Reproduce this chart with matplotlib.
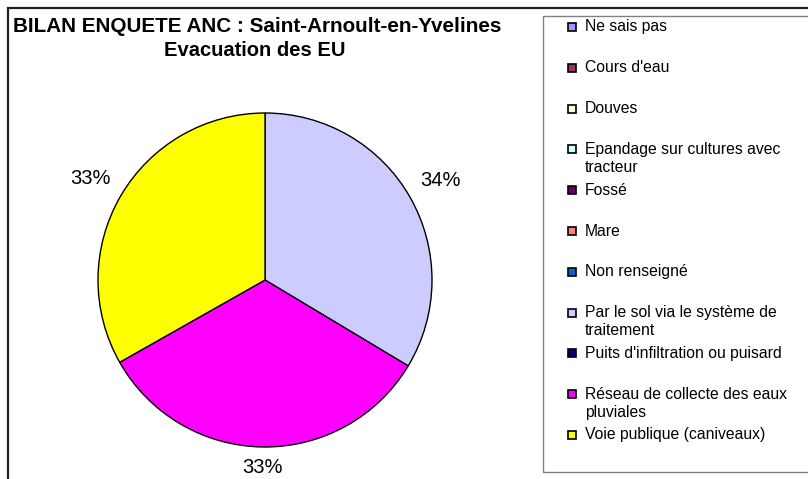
import numpy as np
import matplotlib.pyplot as plt
from matplotlib.patches import Rectangle

plt.rcParams['font.family'] = ['Liberation Sans', 'DejaVu Sans']

W, H = 808, 479

TITLE = "BILAN ENQUETE ANC : Saint-Arnoult-en-Yvelines\nEvacuation des EU"

categories = [
    "Ne sais pas",
    "Cours d'eau",
    "Douves",
    "Epandage sur cultures avec\ntracteur",
    "Fossé",
    "Mare",
    "Non renseigné",
    "Par le sol via le système de\ntraitement",
    "Puits d'infiltration ou puisard",
    "Réseau de collecte des eaux\npluviales",
    "Voie publique (caniveaux)",
]
values = [0, 0, 0, 0, 0, 0, 0, 33.6, 0, 33.2, 33.2]
colors = [
    "#9999FF", "#993366", "#FFFFCC", "#CCFFFF", "#660066", "#FF8080",
    "#0066CC", "#CCCCFF", "#000080", "#FF00FF", "#FFFF00",
]


def fx(px):
    return px / W


def fy(py):
    return 1 - py / H


fig = plt.figure(figsize=(W / 100, H / 100), dpi=100)

# outer chart frame (cut by the image on the right and bottom)
fig.patches.append(Rectangle((fx(8), -0.2), 1.5, fy(8) + 0.2, transform=fig.transFigure,
                             fill=False, edgecolor="#222222", linewidth=1.6))

# title
title_lines = TITLE.split("\n")
fig.text(fx(257), fy(27), title_lines[0], ha="center", va="center",
         fontsize=14.9, fontweight="bold")
fig.text(fx(255), fy(51), title_lines[1], ha="center", va="center",
         fontsize=14.5, fontweight="bold")

# pie
cx, cy, r = 265, 280, 167
ax = fig.add_axes([fx(cx - r), fy(cy + r), 2 * r / W, 2 * r / H])

nz = [i for i, v in enumerate(values) if v > 0]
wedges, _ = ax.pie([values[i] for i in nz], colors=[colors[i] for i in nz],
                   startangle=90, counterclock=False, radius=1,
                   wedgeprops=dict(edgecolor="black", linewidth=1.0))
ax.set_aspect("auto")
ax.set_xlim(-1, 1)
ax.set_ylim(-1, 1)
ax.axis("off")

total = sum(values)
label_dist = [1.21, 1.12, 1.21]
for k, (w, i) in enumerate(zip(wedges, nz)):
    ang = np.deg2rad((w.theta1 + w.theta2) / 2)
    d = label_dist[k]
    ax.text(d * np.cos(ang), d * np.sin(ang), f"{values[i] / total * 100:.0f}%",
            ha="center", va="center", fontsize=14.5, clip_on=False)

# legend box (cut on the right)
fig.patches.append(Rectangle((fx(543), fy(472)), 1.0, fy(16) - fy(472),
                             transform=fig.transFigure, fill=False,
                             edgecolor="#808080", linewidth=1.0))

row0, step, line_h = 27, 40.8, 18
for i, (lab, col) in enumerate(zip(categories, colors)):
    y = row0 + i * step
    fig.patches.append(Rectangle((fx(568), fy(y + 4)), 8 / W, 8 / H,
                                 transform=fig.transFigure, facecolor=col,
                                 edgecolor="black", linewidth=1.2))
    for j, line in enumerate(lab.split("\n")):
        fig.text(fx(585), fy(y + j * line_h + 4.5), line, ha="left",
                 va="baseline", fontsize=11.3)

fig.savefig("out.png", dpi=100)
